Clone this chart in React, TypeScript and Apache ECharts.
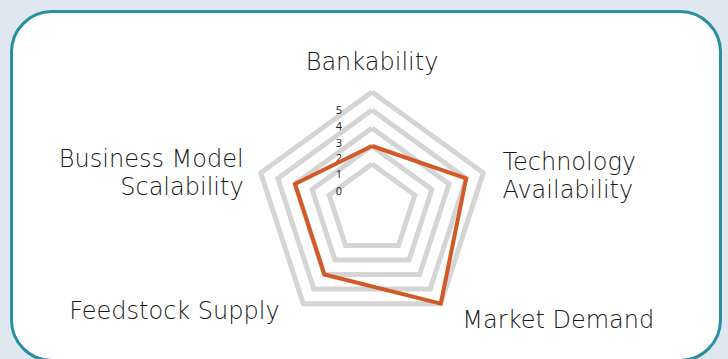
import React, { useEffect, useRef } from "react";
import * as echarts from "echarts";

const indicatorNames = [
  "Bankability",
  "Business Model\nScalability",
  "Feedstock Supply",
  "Market Demand",
  "Technology\nAvailability",
];
const scores = [2, 3, 3, 5, 4];
const scaleMin = 0;
const scaleMax = 5;
const tickValues = [0, 1, 2, 3, 4, 5];

// per-indicator label nudges (padding: top, right, bottom, left) and gaps
const namePadding: number[][] = [
  [0, 0, 0, 0],
  [12, 0, 0, 0],
  [0, 13, 14, 0],
  [4, 0, 0, 11],
  [18, 0, 0, 2],
];
const nameGaps = [16, 18, 18, 18, 18];
const tickPadding = [16, 18, 22, 28, 30, 34];

export default function App() {
  const ref = useRef<HTMLDivElement>(null);
  useEffect(() => {
    if (!ref.current) return;
    const chart = echarts.init(ref.current, undefined, { renderer: "svg" });
    const font = "'DejaVu Sans ExtraLight', 'DejaVu Sans', sans-serif";
    const rich: Record<string, any> = {};
    tickValues.forEach((v, i) => {
      rich["t" + v] = {
        padding: [tickPadding[i], 0, 0, 0],
        fontSize: 11,
        color: "#222",
        fontFamily: "'Open Sans', sans-serif",
      };
    });
    const nameStyle = {
      color: "#181818",
      fontFamily: font,
      fontWeight: 300,
      fontSize: 24,
      lineHeight: 28,
    };
    chart.setOption({
      animation: false,
      radar: {
        center: [372, 209],
        radius: [27, 117],
        startAngle: 90,
        shape: "polygon",
        splitNumber: 5,
        axisLine: { show: false },
        axisTick: { show: false },
        splitArea: { show: false },
        splitLine: {
          lineStyle: {
            color: ["rgba(0,0,0,0)", "#d5d5d5", "#d5d5d5", "#d5d5d5", "#d5d5d5", "#d5d5d5"],
            width: 5,
          },
        },
        axisLabel: { show: false },
        axisName: {
          ...nameStyle,
          formatter: (name: string) =>
            name
              .split("\n")
              .map((l) => `{n|${l}}`)
              .join("\n"),
          rich: { n: { ...nameStyle } },
        },
        nameGap: 18,
        indicator: indicatorNames.map((n, i) => ({
          name: n,
          min: scaleMin,
          max: scaleMax,
          nameGap: nameGaps[i],
          nameTextStyle: { padding: namePadding[i] },
          ...(i === 0
            ? {
                axisLabel: {
                  show: true,
                  margin: 30,
                  formatter: (v: number) => `{t${v}|${v}}`,
                  rich,
                },
              }
            : {}),
        })),
      },
      series: [
        {
          type: "radar",
          symbol: "none",
          lineStyle: { color: "#d35a28", width: 4 },
          data: [{ value: scores, name: "Score" }],
        },
      ],
    });
    return () => chart.dispose();
  }, []);
  return (
    <div style={{ position: "fixed", left: 0, top: 0, width: 728, height: 359, background: "#e0e8ef", overflow: "hidden" }}>
      <div
        style={{
          position: "absolute",
          left: 10,
          top: 10,
          width: 706,
          height: 346,
          background: "#fff",
          border: "3px solid #2a8ea2",
          borderRadius: 42,
        }}
      />
      <div ref={ref} style={{ position: "absolute", left: 0, top: 0, width: 728, height: 359 }} />
    </div>
  );
}
